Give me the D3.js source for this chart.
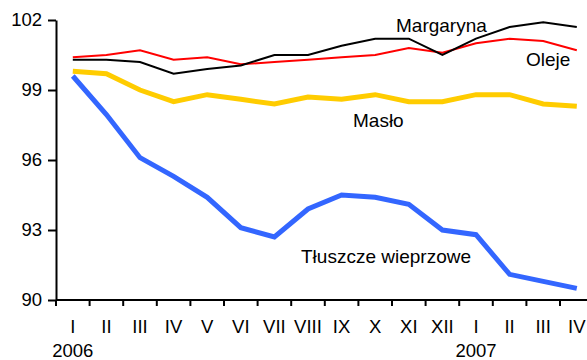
<!DOCTYPE html>
<html>
<head>
<meta charset="utf-8">
<script src="https://cdn.jsdelivr.net/npm/d3@7/dist/d3.min.js"></script>
<style>
  html, body { margin: 0; padding: 0; background: #fff; }
  svg { display: block; font-family: Arial, "Liberation Sans", Helvetica, sans-serif; }
</style>
</head>
<body>
<svg id="chart" width="587" height="360"></svg>
<script>
// Months (Roman numerals), Jan 2006 – Apr 2007
const months = ["I","II","III","IV","V","VI","VII","VIII","IX","X","XI","XII","I","II","III","IV"];
const yearLabels = [{ idx: 0, text: "2006" }, { idx: 12, text: "2007" }];
const yTicks = [90, 93, 96, 99, 102];

// Price indices
const margaryna = [100.3, 100.3, 100.2, 99.7, 99.9, 100.05, 100.5, 100.5, 100.9, 101.2, 101.2, 100.5, 101.2, 101.7, 101.9, 101.7];
const oleje     = [100.4, 100.5, 100.7, 100.3, 100.4, 100.1, 100.2, 100.3, 100.4, 100.5, 100.8, 100.6, 101.0, 101.2, 101.1, 100.7];
const maslo     = [99.8, 99.7, 99.0, 98.5, 98.8, 98.6, 98.4, 98.7, 98.6, 98.8, 98.5, 98.5, 98.8, 98.8, 98.4, 98.3];
const tluszcze  = [99.6, 97.95, 96.1, 95.3, 94.4, 93.1, 92.7, 93.9, 94.5, 94.4, 94.1, 93.0, 92.8, 91.1, 90.8, 90.5];

const seriesList = [
  { name: "Tłuszcze wieprzowe", values: tluszcze, color: "#3366ff", width: 5, label: [301, 263] },
  { name: "Masło", values: maslo, color: "#ffcc00", width: 5, label: [353, 127] },
  { name: "Oleje", values: oleje, color: "#ff0000", width: 2, label: [526, 66] },
  { name: "Margaryna", values: margaryna, color: "#000000", width: 2, label: [396, 32] }
];

const svg = d3.select("#chart");
const plotLeft = 56, plotRight = 593.6, plotTop = 20, plotBottom = 300;

const x = d3.scaleBand().domain(d3.range(months.length)).range([plotLeft, plotRight]).paddingInner(0).paddingOuter(0);
const y = d3.scaleLinear().domain([90, 102]).range([plotBottom, plotTop]);
const cx = i => x(i) + x.bandwidth() / 2;

// Y axis
const yAxis = svg.append("g").attr("transform", `translate(${plotLeft},0)`)
  .call(d3.axisLeft(y).tickValues(yTicks).tickSize(8).tickSizeOuter(0).tickPadding(6));
yAxis.select(".domain").attr("stroke", "#000").attr("stroke-width", 2);
yAxis.selectAll(".tick line").attr("stroke", "#000").attr("stroke-width", 2);
yAxis.selectAll(".tick text").attr("font-size", 18.5).attr("fill", "#000").attr("font-family", null);

// X axis: ticks at month boundaries, labels centred in each month
const xg = svg.append("g").attr("transform", `translate(0,${plotBottom})`);
xg.append("line").attr("x1", plotLeft).attr("x2", 587).attr("y1", 0).attr("y2", 0)
  .attr("stroke", "#000").attr("stroke-width", 2);
xg.selectAll("line.tk").data(d3.range(months.length)).join("line").attr("class", "tk")
  .attr("x1", i => x(i)).attr("x2", i => x(i)).attr("y1", 0).attr("y2", 6)
  .attr("stroke", "#000").attr("stroke-width", 2);
xg.selectAll("text.m").data(months).join("text").attr("class", "m")
  .attr("x", (d, i) => cx(i)).attr("y", 33).attr("text-anchor", "middle")
  .attr("font-size", 18.5).attr("fill", "#000").text(d => d);
xg.selectAll("text.yr").data(yearLabels).join("text").attr("class", "yr")
  .attr("x", d => cx(d.idx)).attr("y", 57).attr("text-anchor", "middle")
  .attr("font-size", 18.5).attr("fill", "#000").text(d => d.text);

// Series lines
const line = d3.line().x((d, i) => cx(i)).y(d => y(d));
seriesList.forEach(s => {
  svg.append("path").datum(s.values).attr("d", line)
    .attr("fill", "none").attr("stroke", s.color).attr("stroke-width", s.width)
    .attr("stroke-linejoin", "miter");
});

// Series labels
svg.selectAll("text.lbl").data(seriesList).join("text").attr("class", "lbl")
  .attr("x", d => d.label[0]).attr("y", d => d.label[1])
  .attr("font-size", 19).attr("fill", "#000").text(d => d.name);
</script>
</body>
</html>
